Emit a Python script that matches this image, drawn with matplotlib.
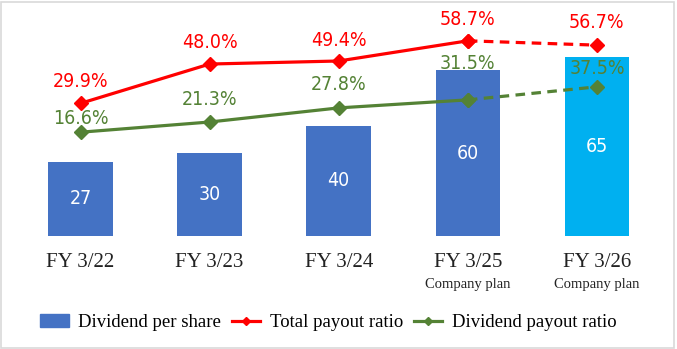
import matplotlib.pyplot as plt
from matplotlib.lines import Line2D
from matplotlib.patches import Patch, Rectangle

years = ["FY 3/22", "FY 3/23", "FY 3/24", "FY 3/25", "FY 3/26"]
plan_note = ["", "", "", "Company plan", "Company plan"]
dps = [27, 30, 40, 60, 65]
total_payout = [29.9, 48.0, 49.4, 58.7, 56.7]
div_payout = [16.6, 21.3, 27.8, 31.5, 37.5]

BLUE = "#4472C4"
LIGHT_BLUE = "#00B0F0"
RED = "#FF0000"
GREEN = "#548235"
num_font = {"family": ["DejaVu Sans"], "stretch": "condensed"}
serif_font = ["Liberation Serif", "DejaVu Serif"]

# label offsets above each marker (points)
red_off = [15.5, 15.5, 15, 15, 16.5]
green_off = [10, 16.5, 16.5, 26, 13]

fig = plt.figure(figsize=(6.77, 3.49), dpi=100)
fig.patches.append(Rectangle((0.002, 0.004), 0.994, 0.99, transform=fig.transFigure,
                             fill=False, edgecolor="#D9D9D9", linewidth=1.2))

ax = fig.add_axes([0.0236, 0.3238, 0.9535, 0.619])
x = list(range(len(years)))
colors = [BLUE] * 4 + [LIGHT_BLUE]
ax.bar(x, dps, width=0.5, color=colors)
for i, v in enumerate(dps):
    ax.text(i, v / 2, str(v), ha="center", va="center", color="white",
            fontsize=14, **num_font)
ax.set_xlim(-0.5, 4.5)
ax.set_ylim(0, 78.3)
ax.set_xticks([])
ax.set_yticks([])
for s in ax.spines.values():
    s.set_visible(False)

for i, (y, note) in enumerate(zip(years, plan_note)):
    ax.text(i, -0.125, y, transform=ax.get_xaxis_transform(), ha="center", va="center",
            fontsize=15, family=serif_font, color="#222222")
    if note:
        ax.text(i, -0.225, note, transform=ax.get_xaxis_transform(), ha="center",
                va="center", fontsize=10.5, family=serif_font, color="#222222")

ax2 = ax.twinx()
ax2.set_ylim(-31.2, 68.3)
ax2.set_yticks([])
for s in ax2.spines.values():
    s.set_visible(False)

for vals, col, offs in [(total_payout, RED, red_off), (div_payout, GREEN, green_off)]:
    ax2.plot(x[:4], vals[:4], color=col, lw=2.3, marker="D", ms=7)
    ax2.plot(x[3:], vals[3:], color=col, lw=2.3, ls=(0, (3, 2)), marker="D", ms=7)
    for i, v in enumerate(vals):
        ax2.annotate(f"{v:.1f}%", (i, v), xytext=(0, offs[i]), textcoords="offset points",
                     ha="center", va="center", color=col, fontsize=14, **num_font)

handles = [Patch(color=BLUE),
           Line2D([], [], color=RED, lw=2.3, marker="D", ms=4),
           Line2D([], [], color=GREEN, lw=2.3, marker="D", ms=4)]
fig.legend(handles, ["Dividend per share", "Total payout ratio", "Dividend payout ratio"],
           loc="center", bbox_to_anchor=(0.485, 0.075), ncol=3, frameon=False,
           prop={"family": serif_font, "size": 13.5}, handlelength=1.5,
           handletextpad=0.5, columnspacing=0.6)

fig.savefig("out.png", dpi=100)
